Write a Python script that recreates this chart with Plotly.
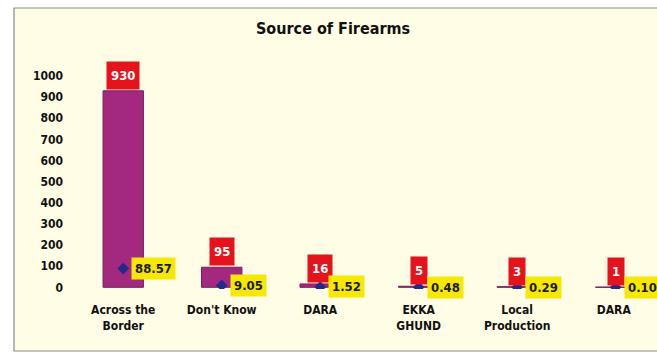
import plotly.graph_objects as go

# Source of firearms: counts and share of total (%)
categories = ["Across the<br>Border", "Don't Know", "DARA", "EKKA<br>GHUND", "Local<br>Production", "DARA "]
counts = [930, 95, 16, 5, 3, 1]
percentages = [88.57, 9.05, 1.52, 0.48, 0.29, 0.10]
y_ticks = [0, 100, 200, 300, 400, 500, 600, 700, 800, 900, 1000]

FONT = "DejaVu Sans Condensed, Liberation Sans Narrow, sans-serif"
x_idx = list(range(len(categories)))

W, H = 657, 354
L, R, T, B = 74, 0, 76, 65

# Pixel positions in the figure -> paper coords of the plot area
pw = W - L - R
ph = H - T - B
def px_x(px):
    return (px - L) / pw
def px_y(py):
    return (H - B - py) / ph

fig = go.Figure()

fig.add_trace(go.Bar(
    x=x_idx, y=counts, width=0.41,
    marker=dict(color="#A3287F", line=dict(color="#7A1D5C", width=1)),
    hoverinfo="skip", showlegend=False,
))

fig.add_trace(go.Scatter(
    x=x_idx, y=percentages, mode="markers",
    marker=dict(symbol="diamond", size=9, color="#1F2A8A"),
    hoverinfo="skip", showlegend=False,
))

annotations = []
for i, (c, p) in enumerate(zip(counts, percentages)):
    # count label in a red box sitting on top of the bar
    annotations.append(dict(
        x=i, y=c, xref="x", yref="y", text=str(c), showarrow=False,
        xanchor="center", yanchor="bottom", yshift=1,
        height=19, valign="middle",
        bgcolor="#E5131B", borderpad=4,
        font=dict(family=FONT, size=13, color="white", weight="bold"),
    ))
    # percentage label in a yellow box to the right of the marker
    annotations.append(dict(
        x=i, y=p, xref="x", yref="y", text=f"{p:.2f}", showarrow=False,
        xanchor="left", yanchor="middle", xshift=8,
        bgcolor="#F6E800", borderpad=3,
        font=dict(family=FONT, size=13, color="#1A1A1A", weight="bold"),
    ))

annotations.append(dict(
    x=px_x(333), y=px_y(29), xref="paper", yref="paper",
    text="Source of Firearms", showarrow=False,
    xanchor="center", yanchor="middle",
    font=dict(family=FONT, size=16, color="#111111", weight="bold"),
))

shapes = [dict(
    type="rect", xref="paper", yref="paper", layer="below",
    x0=px_x(14), x1=px_x(700), y0=px_y(351), y1=px_y(8),
    fillcolor="#FFFDE6", line=dict(color="#8A8A8A", width=1.2),
)]

fig.update_layout(
    width=W, height=H,
    margin=dict(l=L, r=R, t=T, b=B),
    paper_bgcolor="white",
    plot_bgcolor="#FDF27A",
    annotations=annotations,
    shapes=shapes,
    xaxis=dict(
        range=[-0.5, 5.42], tickmode="array", tickvals=x_idx, ticktext=categories,
        showgrid=False, zeroline=False, showline=False, ticks="",
        ticklabelstandoff=12,
        tickfont=dict(family=FONT, size=12, color="#111111", weight="bold"),
    ),
    yaxis=dict(
        range=[-8, 1000], tickmode="array", tickvals=y_ticks,
        ticktext=[str(v) for v in y_ticks],
        showgrid=False, zeroline=False, showline=False, ticks="",
        ticklabelstandoff=10,
        tickfont=dict(family=FONT, size=12, color="#111111", weight="bold"),
    ),
    font=dict(family=FONT),
)

fig.write_html("out.html")
